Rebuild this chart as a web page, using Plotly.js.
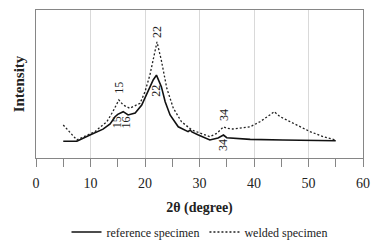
<!DOCTYPE html>
<html>
<head>
<meta charset="utf-8">
<script src="https://cdn.plot.ly/plotly-3.0.1.min.js"></script>
<style>html,body{margin:0;padding:0;background:#fff;}#chart{width:378px;height:246px;}</style>
</head>
<body>
<div id="chart"></div>
<script>
// 2θ positions (degree) and intensities
const angleRef = [5, 7.5, 9.9, 12.3, 13.6, 14.5, 15.0, 15.4, 16.0, 16.9, 18.2, 19.4, 20.6, 21.5, 22.1, 23.0, 23.7, 24.6, 26.1, 27.9, 28.3, 28.6, 29.8, 31.9, 33.4, 34.4, 35.0, 36.1, 39.3, 45.3, 55];
const intensityRef = [11.3, 11.3, 15.5, 19.5, 23.0, 27.9, 29.5, 30.2, 31.3, 29.1, 30.4, 35.8, 45.9, 52.7, 56.0, 48.2, 38.0, 29.1, 21.1, 17.8, 18.9, 17.6, 15.5, 12.2, 13.5, 15.5, 13.7, 13.3, 12.6, 12.2, 11.7];

const angleWeld = [5, 7.5, 10.8, 13.0, 14.1, 15.2, 16.0, 17.2, 19.1, 20.0, 20.9, 21.8, 22.2, 23.0, 24.0, 25.2, 26.7, 28.6, 30.2, 31.9, 33.2, 34.4, 35.0, 36.1, 39.3, 41.1, 42.9, 43.7, 44.8, 47.2, 50.3, 52.7, 54.9];
const intensityWeld = [22.3, 12.2, 17.8, 24.5, 31.3, 39.2, 35.8, 33.6, 37.0, 44.8, 56.1, 73.0, 78.4, 66.0, 47.1, 33.6, 24.5, 18.9, 16.5, 14.4, 16.7, 21.1, 20.1, 19.6, 21.1, 24.5, 29.1, 31.3, 27.9, 23.4, 17.8, 14.4, 12.2];

const seriesNames = ['reference specimen', 'welded specimen'];

// peak labels: [text, x, y]
const labelsWeld = [['15', 15.2, 47.3], ['22', 22.2, 85.1], ['34', 34.5, 29.1]];
const labelsRef = [['15', 14.9, 24.3], ['16', 16.6, 24.3], ['22', 22.0, 45.3], ['34', 34.3, 8.8]];

const FONT = 'Liberation Serif';

const traces = [
  {x: angleRef, y: intensityRef, name: seriesNames[0], mode: 'lines',
   line: {color: '#111', width: 1.6}},
  {x: angleWeld, y: intensityWeld, name: seriesNames[1], mode: 'lines',
   line: {color: '#222', width: 1.3, dash: '2px,2px'}}
];

const annotations = labelsWeld.concat(labelsRef).map(l => ({
  text: l[0], x: l[1], y: l[2], xref: 'x', yref: 'y', showarrow: false,
  textangle: -90, xanchor: 'center', yanchor: 'middle',
  font: {family: FONT, size: 12, color: '#222'}
}));

const layout = {
  width: 378, height: 246,
  margin: {l: 36, r: 15, t: 10, b: 88},
  paper_bgcolor: '#fff', plot_bgcolor: '#fff',
  showlegend: true,
  font: {family: FONT, color: '#222'},
  xaxis: {
    range: [0, 60], tick0: 0, dtick: 10,
    ticks: 'outside', ticklen: 8, tickcolor: '#868686', tickwidth: 1,
    ticklabelstandoff: 4,
    showline: true, linecolor: '#868686', linewidth: 1, mirror: true,
    showgrid: true, gridcolor: '#d9d9d9', zeroline: false,
    tickfont: {family: FONT, size: 14, color: '#222'},
    minor: {dtick: 5, ticks: 'outside', ticklen: 8, tickcolor: '#868686', showgrid: false},
    title: {text: '<b>2θ (degree)</b>', font: {family: FONT, size: 14, color: '#222'}, standoff: 12}
  },
  yaxis: {
    range: [0, 100], showticklabels: false, ticks: '',
    showgrid: false, zeroline: false,
    showline: true, linecolor: '#868686', linewidth: 1, mirror: true,
    title: {text: '<b>Intensity</b>', font: {family: FONT, size: 15, color: '#222'}, standoff: 6}
  },
  legend: {orientation: 'h', x: 0.5, xanchor: 'center', yref: 'container', y: 0.057, yanchor: 'middle',
           font: {family: FONT, size: 12, color: '#222'}, itemwidth: 30, bgcolor: 'rgba(0,0,0,0)'},
  annotations: annotations
};

Plotly.newPlot('chart', traces, layout, {staticPlot: true, displayModeBar: false});
</script>
</body>
</html>
